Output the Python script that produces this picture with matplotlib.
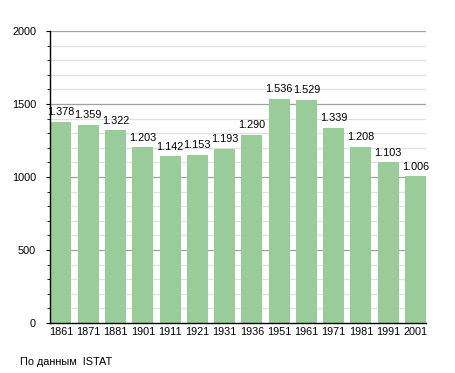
import matplotlib
matplotlib.use('AGG')
import matplotlib.pyplot as plt
import numpy as np

plt.rcParams['font.family'] = ['Liberation Sans', 'DejaVu Sans']

# census years and population
years = ['1861', '1871', '1881', '1901', '1911', '1921', '1931',
         '1936', '1951', '1961', '1971', '1981', '1991', '2001']
population = [1378, 1359, 1322, 1203, 1142, 1153, 1193,
              1290, 1536, 1529, 1339, 1208, 1103, 1006]
value_labels = ['1.378', '1.359', '1.322', '1.203', '1.142', '1.153', '1.193',
                '1.290', '1.536', '1.529', '1.339', '1.208', '1.103', '1.006']

fig = plt.figure(figsize=(4.55, 3.73), dpi=100)
ax = fig.add_axes([50/455, 50/373, 376/455, 292/373])

x = np.arange(len(years))

# grid: light every 100, darker every 500
for v in range(100, 2001, 100):
    if v % 500 == 0:
        ax.axhline(v, color='#a0a0a0', lw=0.9, zorder=0)
    else:
        ax.axhline(v, color='#e0e0e0', lw=0.9, zorder=0)

ax.bar(x, population, width=0.77, color='#99cc99', zorder=2)

for xi, v, lab in zip(x, population, value_labels):
    ax.text(xi, v + 30, lab, ha='center', va='bottom', fontsize=7.8, zorder=3)

ax.set_xlim(-0.403, 13.385)
ax.set_ylim(0, 2000)
ax.set_yticks([0, 500, 1000, 1500, 2000])
ax.set_yticks(np.arange(0, 2001, 100), minor=True)
ax.set_xticks(x)
ax.set_xticklabels(years)

ax.tick_params(axis='y', which='major', length=3, width=0.8, pad=7, labelsize=7.8)
ax.tick_params(axis='y', which='minor', length=2.5, width=0.6)
ax.tick_params(axis='x', length=0, pad=3, labelsize=7.8)

for s in ['top', 'right']:
    ax.spines[s].set_visible(False)
ax.spines['left'].set_linewidth(1.0)
ax.spines['bottom'].set_linewidth(1.0)
ax.spines['left'].set_zorder(4)
ax.spines['bottom'].set_zorder(4)

fig.text(20/455, 1 - 362/373, 'По данным  ISTAT', fontsize=7.8, ha='left', va='center')

plt.savefig('out.png', dpi=100)
